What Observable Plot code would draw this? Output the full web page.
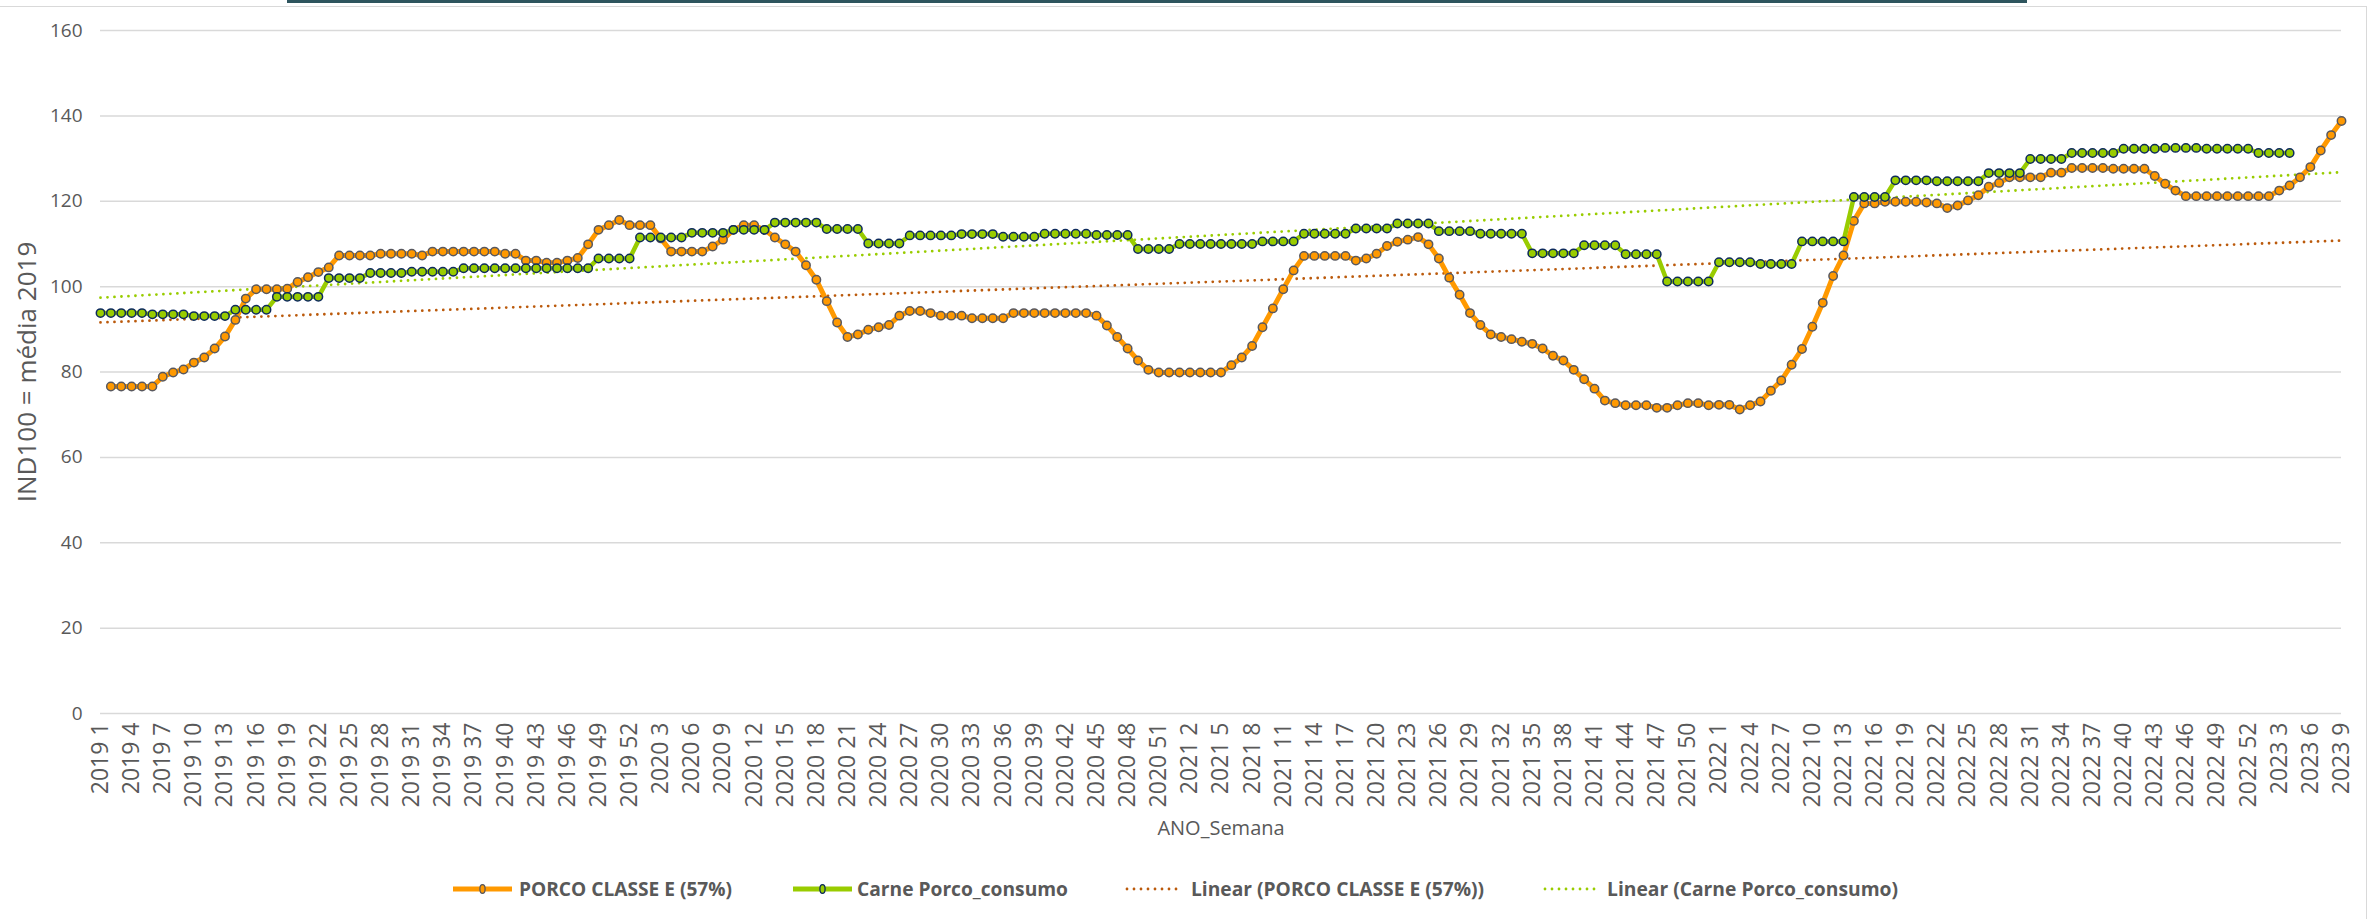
<!DOCTYPE html>
<html>
<head>
<meta charset="utf-8">
<script src="https://cdn.jsdelivr.net/npm/d3@7"></script>
<script src="https://cdn.jsdelivr.net/npm/@observablehq/plot@0.6"></script>
<style>
  html, body { margin: 0; padding: 0; background: #fff; }
  #wrap { position: relative; width: 2369px; height: 919px; overflow: hidden; font-family: "Open Sans", sans-serif; }
  #frame { position: absolute; left: -4px; top: 6px; width: 2371px; height: 1000px; border: 1.5px solid #d9d9d9; box-sizing: border-box; }
  #topbar { position: absolute; left: 287px; top: 0; width: 1740px; height: 3px; background: #2E555E; }
  #chart { position: absolute; left: 0; top: 0; }
  #legend { position: absolute; left: 0; top: 850px; }
</style>
</head>
<body>
<div id="wrap">
  <div id="frame"></div>
  <div id="chart"></div>
  <div id="legend"></div>
  <div id="topbar"></div>
</div>
<script>
// ---- categories (ISO week labels "YYYY W") ----
const years = [2019, 2020, 2021, 2022, 2023];
const weeksPerYear = [52, 52, 52, 52, 9];
const weekLabels = years.flatMap((y, k) => d3.range(1, weeksPerYear[k] + 1).map(w => `${y} ${w}`));

// ---- series values (IND100 = média 2019) ----
const porcoClasseE = [
  // 2019
  null, 76.6, 76.6, 76.6, 76.6, 76.6, 78.9, 79.9, 80.6, 82.2,
  83.4, 85.5, 88.3, 92.2, 97.2, 99.4, 99.4, 99.4, 99.5, 101.1,
  102.2, 103.4, 104.5, 107.3, 107.3, 107.3, 107.3, 107.7, 107.7, 107.7,
  107.7, 107.3, 108.2, 108.2, 108.2, 108.2, 108.2, 108.2, 108.2, 107.7,
  107.7, 106.1, 106.1, 105.6, 105.6, 106.1, 106.7, 109.9, 113.3, 114.4,
  115.6, 114.4,
  // 2020
  114.4, 114.4, 111.3, 108.2, 108.2, 108.2, 108.2, 109.4, 111.0, 113.3,
  114.4, 114.4, 113.3, 111.5, 109.9, 108.2, 105.0, 101.6, 96.6, 91.6,
  88.2, 88.8, 89.9, 90.5, 91.0, 93.2, 94.3, 94.3, 93.8, 93.2,
  93.2, 93.2, 92.6, 92.6, 92.6, 92.6, 93.8, 93.8, 93.8, 93.8,
  93.8, 93.8, 93.8, 93.8, 93.2, 90.9, 88.2, 85.5, 82.7, 80.5,
  79.9, 79.9,
  // 2021
  79.9, 79.9, 79.9, 79.9, 79.9, 81.6, 83.4, 86.1, 90.5, 94.9,
  99.4, 103.8, 107.2, 107.2, 107.2, 107.2, 107.2, 106.1, 106.6, 107.7,
  109.5, 110.5, 111.0, 111.6, 109.9, 106.6, 102.1, 98.1, 93.8, 91.0,
  88.8, 88.2, 87.7, 87.1, 86.6, 85.5, 83.8, 82.7, 80.5, 78.3,
  76.1, 73.3, 72.7, 72.2, 72.2, 72.2, 71.6, 71.6, 72.2, 72.7,
  72.7, 72.2,
  // 2022
  72.3, 72.3, 71.2, 72.2, 73.1, 75.6, 78.0, 81.7, 85.4, 90.6,
  96.2, 102.5, 107.3, 115.4, 119.5, 119.5, 119.9, 119.9, 119.9, 119.9,
  119.7, 119.5, 118.4, 119.0, 120.2, 121.4, 123.4, 124.3, 125.6, 125.6,
  125.6, 125.6, 126.7, 126.7, 127.8, 127.8, 127.8, 127.8, 127.6, 127.6,
  127.6, 127.6, 125.9, 124.1, 122.5, 121.2, 121.2, 121.2, 121.2, 121.2,
  121.2, 121.2,
  // 2023
  121.2, 121.2, 122.5, 123.7, 125.6, 128.0, 131.9, 135.5, 138.8
];

const carnePorcoConsumo = [
  // 2019
  93.8, 93.8, 93.8, 93.8, 93.8, 93.5, 93.5, 93.5, 93.5, 93.1,
  93.1, 93.1, 93.1, 94.6, 94.6, 94.6, 94.6, 97.6, 97.6, 97.6,
  97.6, 97.6, 102.0, 102.0, 102.0, 102.0, 103.2, 103.2, 103.2, 103.2,
  103.5, 103.5, 103.5, 103.5, 103.5, 104.3, 104.3, 104.3, 104.3, 104.3,
  104.3, 104.3, 104.3, 104.3, 104.3, 104.3, 104.3, 104.3, 106.6, 106.6,
  106.6, 106.6,
  // 2020
  111.5, 111.5, 111.5, 111.5, 111.5, 112.6, 112.6, 112.6, 112.6, 113.3,
  113.3, 113.3, 113.3, 115.0, 115.0, 115.0, 115.0, 115.0, 113.5, 113.5,
  113.5, 113.5, 110.1, 110.1, 110.1, 110.1, 112.0, 112.0, 112.0, 112.0,
  112.0, 112.3, 112.3, 112.3, 112.3, 111.7, 111.7, 111.7, 111.7, 112.4,
  112.4, 112.4, 112.4, 112.4, 112.1, 112.1, 112.1, 112.1, 108.8, 108.8,
  108.8, 108.8,
  // 2021
  110.0, 110.0, 110.0, 110.0, 110.0, 110.0, 110.0, 110.0, 110.6, 110.6,
  110.6, 110.6, 112.4, 112.4, 112.4, 112.4, 112.4, 113.6, 113.6, 113.6,
  113.6, 114.8, 114.8, 114.8, 114.8, 113.0, 113.0, 113.0, 113.0, 112.4,
  112.4, 112.4, 112.4, 112.4, 107.8, 107.8, 107.8, 107.8, 107.8, 109.7,
  109.7, 109.7, 109.7, 107.6, 107.6, 107.6, 107.6, 101.2, 101.2, 101.2,
  101.2, 101.2,
  // 2022
  105.7, 105.7, 105.7, 105.7, 105.3, 105.3, 105.3, 105.3, 110.6, 110.6,
  110.6, 110.6, 110.6, 121.0, 121.0, 121.0, 121.0, 124.9, 124.9, 124.9,
  124.9, 124.7, 124.7, 124.7, 124.7, 124.7, 126.6, 126.6, 126.6, 126.6,
  129.9, 129.9, 129.9, 129.9, 131.3, 131.3, 131.3, 131.3, 131.3, 132.3,
  132.3, 132.3, 132.3, 132.5, 132.5, 132.5, 132.5, 132.3, 132.3, 132.3,
  132.3, 132.3,
  // 2023
  131.3, 131.3, 131.3, 131.3, null, null, null, null, null
];

const seriesNames = ["PORCO CLASSE E (57%)", "Carne Porco_consumo"];
const yTicks = [0, 20, 40, 60, 80, 100, 120, 140, 160];
const xTickStep = 3;
const yTitle = "IND100 = média 2019";
const xTitle = "ANO_Semana";

// ---- styling ----
const ORANGE = "#FF9900", ORANGE_EDGE = "#58585f";
const GREEN = "#99CC00", GREEN_EDGE = "#0d2a5c";
const BROWN_TREND = "#BB5A0C", LIME_TREND = "#99CC00";
const TEXT = "#595959";

const rows = weekLabels.map((label, i) => ({i, label, porco: porcoClasseE[i], carne: carnePorcoConsumo[i]}));
const xTicks = d3.range(0, weekLabels.length, xTickStep);

// least-squares linear trend (as Excel "Linear" trendline) over category index
function linearTrend(values) {
  const pts = values.map((v, i) => [i, v]).filter(d => d[1] != null);
  const mx = d3.mean(pts, d => d[0]), my = d3.mean(pts, d => d[1]);
  const b = d3.sum(pts, d => (d[0] - mx) * (d[1] - my)) / d3.sum(pts, d => (d[0] - mx) ** 2);
  const a = my - b * mx;
  return [0, weekLabels.length - 1].map(i => ({i, v: a + b * i}));
}
const trendPorco = linearTrend(porcoClasseE);
const trendCarne = linearTrend(carnePorcoConsumo);

const chart = Plot.plot({
  width: 2369,
  height: 850,
  marginLeft: 100,
  marginRight: 28,
  marginTop: 30,
  marginBottom: 137,
  style: {background: "transparent", fontFamily: "'Open Sans', sans-serif", color: TEXT},
  x: {type: "linear", domain: [0, weekLabels.length - 1]},
  y: {domain: [0, 160]},
  marks: [
    Plot.gridY(yTicks, {stroke: "#d9d9d9", strokeOpacity: 1, strokeWidth: 1.5}),
    Plot.axisY(yTicks, {tickSize: 0, tickPadding: 18, fontSize: 19, fill: TEXT, label: null}),
    Plot.axisX(xTicks, {tickSize: 0, tickRotate: -90, tickPadding: 9, fontSize: 23, fill: TEXT,
      tickFormat: i => weekLabels[i], label: null, textAnchor: "end"}),
    Plot.text([xTitle], {text: d => d, frameAnchor: "bottom", dy: 115, fontSize: 20, fill: TEXT,
      textAnchor: "middle", lineAnchor: "middle"}),
    Plot.text([yTitle], {text: d => d, frameAnchor: "left", dx: -73, rotate: -90, fontSize: 26, fill: TEXT,
      textAnchor: "middle", lineAnchor: "middle"}),
    Plot.line(trendPorco, {x: "i", y: "v", stroke: BROWN_TREND, strokeWidth: 2.8, strokeDasharray: "0,7", strokeLinecap: "round"}),
    Plot.line(trendCarne, {x: "i", y: "v", stroke: LIME_TREND, strokeWidth: 2.8, strokeDasharray: "0,7", strokeLinecap: "round"}),
    Plot.line(rows, {x: "i", y: "porco", stroke: ORANGE, strokeWidth: 5, strokeLinejoin: "round"}),
    Plot.dot(rows, {x: "i", y: "porco", r: 4.2, fill: ORANGE, stroke: ORANGE_EDGE, strokeWidth: 1.5}),
    Plot.line(rows, {x: "i", y: "carne", stroke: GREEN, strokeWidth: 4.5, strokeLinejoin: "round"}),
    Plot.dot(rows, {x: "i", y: "carne", r: 4.2, fill: GREEN, stroke: GREEN_EDGE, strokeWidth: 1.5})
  ]
});
document.getElementById("chart").append(chart);

// ---- legend (below the plot) ----
const legendItems = [
  {name: seriesNames[0], kind: "series", color: ORANGE, edge: ORANGE_EDGE, x0: 453, x1: 512, tx: 519, tw: 213},
  {name: seriesNames[1], kind: "series", color: GREEN, edge: GREEN_EDGE, x0: 793, x1: 852, tx: 857, tw: 211},
  {name: `Linear (${seriesNames[0]})`, kind: "trend", color: BROWN_TREND, x0: 1127, x1: 1181, tx: 1191, tw: 293},
  {name: `Linear (${seriesNames[1]})`, kind: "trend", color: LIME_TREND, x0: 1545, x1: 1596, tx: 1607, tw: 291}
];
const ly = 39;
const legend = d3.create("svg").attr("width", 2369).attr("height", 69)
  .style("font-family", "'Open Sans', sans-serif");
for (const it of legendItems) {
  const g = legend.append("g");
  if (it.kind === "series") {
    g.append("line").attr("x1", it.x0).attr("x2", it.x1).attr("y1", ly).attr("y2", ly)
      .attr("stroke", it.color).attr("stroke-width", 5);
    g.append("ellipse").attr("cx", (it.x0 + it.x1) / 2).attr("cy", ly).attr("rx", 2.6).attr("ry", 4.4)
      .attr("fill", it.color).attr("stroke", it.edge).attr("stroke-width", 1.3);
  } else {
    g.append("line").attr("x1", it.x0).attr("x2", it.x1).attr("y1", ly).attr("y2", ly)
      .attr("stroke", it.color).attr("stroke-width", 2.8).attr("stroke-dasharray", "0,7").attr("stroke-linecap", "round");
  }
  g.append("text").attr("x", it.tx).attr("y", ly).attr("dy", "0.35em")
    .attr("font-size", 20).attr("font-weight", 700).attr("fill", TEXT)
    .attr("textLength", it.tw).attr("lengthAdjust", "spacingAndGlyphs")
    .text(it.name);
}
document.getElementById("legend").append(legend.node());
</script>
</body>
</html>
